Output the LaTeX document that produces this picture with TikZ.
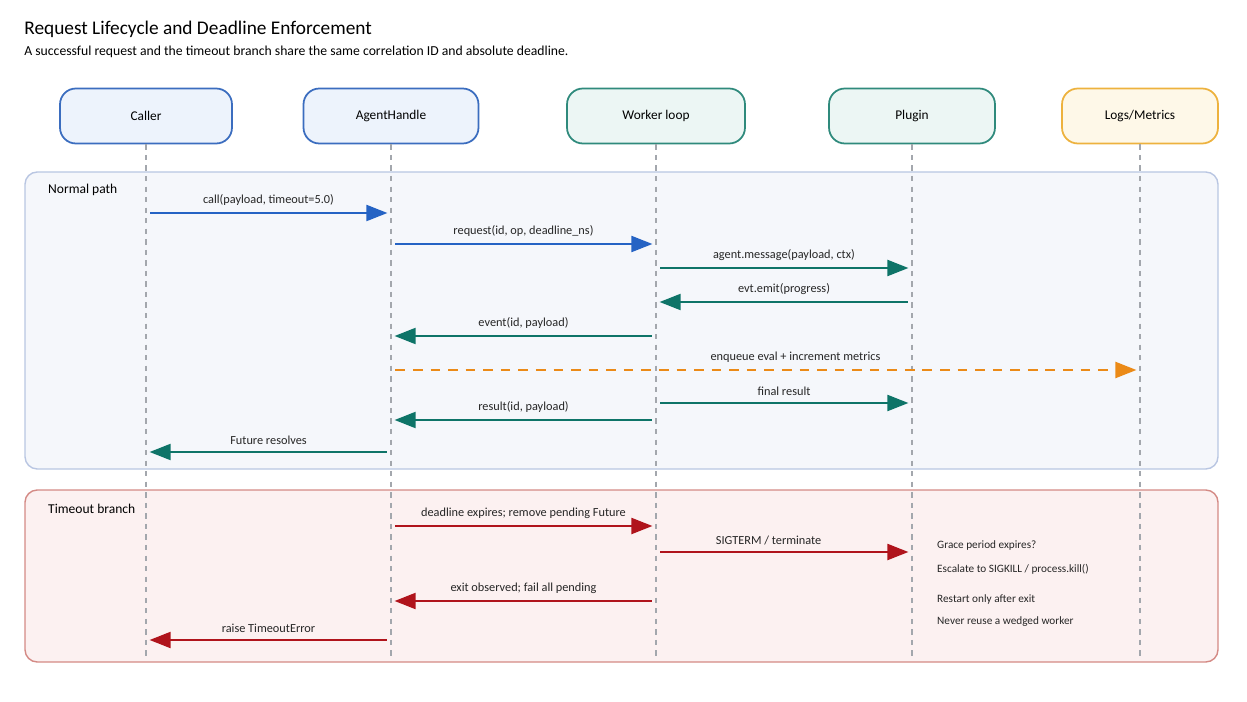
\documentclass[tikz,border=0pt]{standalone}
\usepackage{fontspec}
\setmainfont{Carlito}
\usetikzlibrary{arrows.meta, calc}

\definecolor{hdrblueF}{HTML}{EDF3FC}
\definecolor{hdrblueD}{HTML}{3B6DBF}
\definecolor{hdrtealF}{HTML}{ECF6F4}
\definecolor{hdrtealD}{HTML}{2F8A7C}
\definecolor{hdrorngF}{HTML}{FEF8E8}
\definecolor{hdrorngD}{HTML}{EDB23E}
\definecolor{okpanelF}{HTML}{F5F7FB}
\definecolor{okpanelD}{HTML}{B9C6E2}
\definecolor{topanelF}{HTML}{FCF1F1}
\definecolor{topanelD}{HTML}{D48A85}
\definecolor{msgblue}{HTML}{2563C4}
\definecolor{msgteal}{HTML}{0E7468}
\definecolor{msgred}{HTML}{B0141C}
\definecolor{msgorange}{HTML}{EB8A17}
\definecolor{lifegray}{HTML}{A3A7AD}

\tikzset{
  actor/.style={draw, line width=1pt, rounded corners=9pt, minimum height=1.1cm,
    font=\fontsize{7.6}{9}\selectfont},
  lifeline/.style={lifegray, dashed, line width=0.6pt, dash pattern=on 3pt off 3pt},
  msg/.style={line width=1.5pt, -{Triangle[length=12pt, width=9pt]},
    shorten <=2.5pt, shorten >=2pt},
  msglabel/.style={above=0pt, font=\fontsize{7}{8}\selectfont, text=black!85},
  panel/.style={line width=0.8pt, rounded corners=7pt},
  panellabel/.style={anchor=west, font=\fontsize{7.7}{9}\selectfont},
  notetext/.style={anchor=west, font=\fontsize{6.4}{7.5}\selectfont, text=black!85}
}

\begin{document}
\begin{tikzpicture}[x=0.02cm, y=-0.02cm]
    \useasboundingbox (0,0) rectangle (1247,702);

    % 1. Title
    \node[anchor=west, inner sep=0pt, font=\fontsize{11}{13}\selectfont] (title) at (24,29)
        {Request Lifecycle and Deadline Enforcement};
    \node[anchor=west, inner sep=0pt, font=\fontsize{7.8}{9}\selectfont] (subtitle) at (24,52)
        {A successful request and the timeout branch share the same correlation ID and absolute deadline.};

    % 2. Panels (drawn first so lifelines sit on top)
    \draw[panel, fill=okpanelF, draw=okpanelD] (25,172) rectangle (1218,469);
    \draw[panel, fill=topanelF, draw=topanelD] (25,490) rectangle (1218,662);
    \node[panellabel] (normallbl) at (42,190) {Normal path};
    \node[panellabel] (timeoutlbl) at (42,509) {Timeout branch};

    % 3. Participants
    \node[actor, fill=hdrblueF, draw=hdrblueD, minimum width=3.44cm] (caller) at (146,116) {Caller};
    \node[actor, fill=hdrblueF, draw=hdrblueD, minimum width=3.5cm] (handle) at (391,116) {AgentHandle};
    \node[actor, fill=hdrtealF, draw=hdrtealD, minimum width=3.56cm] (worker) at (656,116) {Worker loop};
    \node[actor, fill=hdrtealF, draw=hdrtealD, minimum width=3.32cm] (plugin) at (912,116) {Plugin};
    \node[actor, fill=hdrorngF, draw=hdrorngD, minimum width=3.12cm] (logs) at (1140,116) {Logs/Metrics};

    % 4. Lifelines
    \coordinate (bottom) at (0,660);
    \draw[lifeline] (caller.south) -- (caller |- bottom);
    \draw[lifeline] (handle.south) -- (handle |- bottom);
    \draw[lifeline] (worker.south) -- (worker |- bottom);
    \draw[lifeline] (plugin.south) -- (plugin |- bottom);
    \draw[lifeline] (logs.south) -- (logs |- bottom);

    % 5. Normal path messages
    \draw[msg, msgblue] (caller |- 0,213) -- (handle |- 0,213)
        node[msglabel, midway] {call(payload, timeout=5.0)};
    \draw[msg, msgblue] (handle |- 0,244) -- (worker |- 0,244)
        node[msglabel, midway] {request(id, op, deadline\_ns)};
    \draw[msg, msgteal] (worker |- 0,268) -- (plugin |- 0,268)
        node[msglabel, midway] {agent.message(payload, ctx)};
    \draw[msg, msgteal] (plugin |- 0,302) -- (worker |- 0,302)
        node[msglabel, midway] {evt.emit(progress)};
    \draw[msg, msgteal] (worker |- 0,336) -- (handle |- 0,336)
        node[msglabel, midway] {event(id, payload)};
    \draw[msg, msgorange, dashed, dash pattern=on 5.5pt off 4.5pt] (handle |- 0,370) -- (logs |- 0,370)
        node[msglabel, pos=0.54] {enqueue eval + increment metrics};
    \draw[msg, msgteal] (worker |- 0,403) -- (plugin |- 0,403)
        node[msglabel, midway] {final result};
    \draw[msg, msgteal] (worker |- 0,420) -- (handle |- 0,420)
        node[msglabel, midway] {result(id, payload)};
    \draw[msg, msgteal] (handle |- 0,452) -- (caller |- 0,452)
        node[msglabel, midway] {Future resolves};

    % 6. Timeout branch messages
    \draw[msg, msgred] (handle |- 0,526) -- (worker |- 0,526)
        node[msglabel, midway] {deadline expires; remove pending Future};
    \draw[msg, msgred] (worker |- 0,552) -- (plugin |- 0,552)
        node[msglabel, pos=0.44] {SIGTERM / terminate};
    \draw[msg, msgred] (worker |- 0,601) -- (handle |- 0,601)
        node[msglabel, midway] {exit observed; fail all pending};
    \draw[msg, msgred] (handle |- 0,640) -- (caller |- 0,640)
        node[msglabel, midway] {raise TimeoutError};

    % 7. Notes next to the plugin lifeline
    \node[notetext] (note1) at (931,545) {Grace period expires?};
    \node[notetext] (note2) at (931,569) {Escalate to SIGKILL / process.kill()};
    \node[notetext] (note3) at (931,599) {Restart only after exit};
    \node[notetext] (note4) at (931,622) {Never reuse a wedged worker};

\end{tikzpicture}
\end{document}
